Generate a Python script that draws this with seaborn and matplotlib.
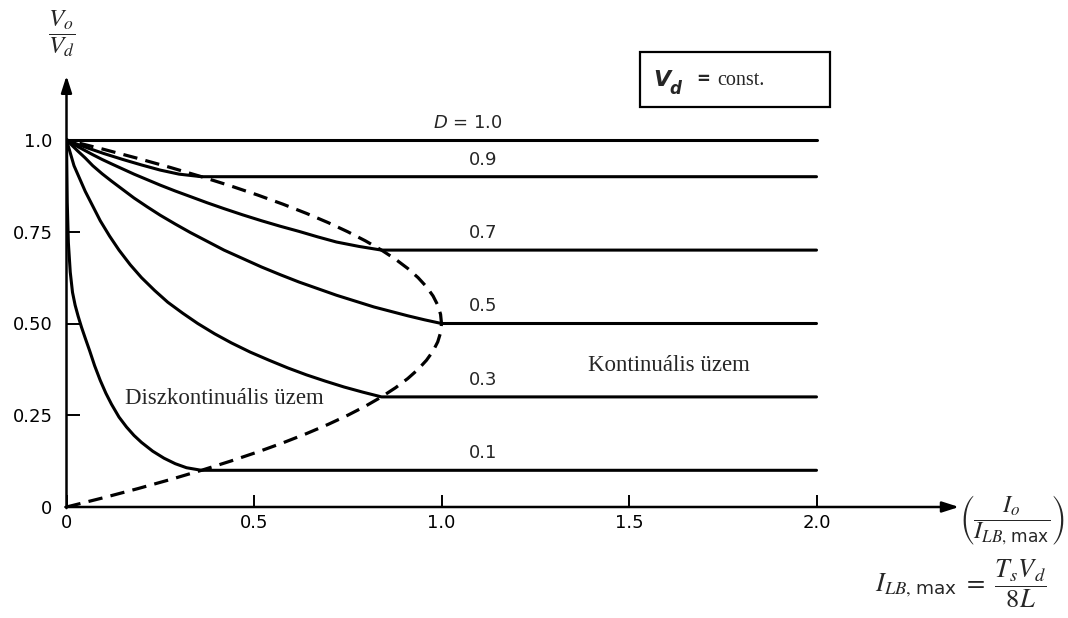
import matplotlib
matplotlib.use("Agg")
import matplotlib.pyplot as plt
import seaborn as sns
import pandas as pd
from matplotlib.patches import Rectangle

# duty cycle values (labels next to the horizontal lines)
duty = [1.0, 0.9, 0.7, 0.5, 0.3, 0.1]
duty_labels = ["$D$ = 1.0", "0.9", "0.7", "0.5", "0.3", "0.1"]

# curves: discontinuous part + flat continuous part up to 2.0
x_d10 = [0.0, 2.0]
y_d10 = [1.0, 1.0]

x_d09 = [0.0, 0.03, 0.06, 0.1, 0.15, 0.2, 0.25, 0.3, 0.36, 2.0]
y_d09 = [1.0, 0.988, 0.977, 0.963, 0.947, 0.932, 0.918, 0.907, 0.9, 0.9]

x_d07 = [0.0, 0.015, 0.03, 0.05, 0.07, 0.095, 0.12, 0.15, 0.18, 0.215, 0.25, 0.29,
         0.33, 0.375, 0.42, 0.47, 0.52, 0.57, 0.62, 0.67, 0.72, 0.78, 0.84, 2.0]
y_d07 = [1.0, 0.991, 0.982, 0.971, 0.960, 0.947, 0.935, 0.921, 0.907, 0.892, 0.877,
         0.861, 0.846, 0.829, 0.813, 0.796, 0.780, 0.765, 0.751, 0.736, 0.722, 0.710,
         0.70, 0.70]

x_d05 = [0.0, 0.015, 0.03, 0.05, 0.07, 0.095, 0.12, 0.15, 0.18, 0.215, 0.25, 0.29,
         0.33, 0.375, 0.42, 0.47, 0.52, 0.57, 0.62, 0.67, 0.72, 0.77, 0.82, 0.865,
         0.91, 0.955, 1.0, 2.0]
y_d05 = [1.0, 0.985, 0.97, 0.951, 0.93, 0.908, 0.888, 0.865, 0.842, 0.818, 0.795,
         0.771, 0.748, 0.724, 0.70, 0.677, 0.654, 0.633, 0.613, 0.595, 0.577, 0.561,
         0.545, 0.533, 0.521, 0.510, 0.50, 0.50]

x_d03 = [0.0, 0.01, 0.02, 0.035, 0.05, 0.07, 0.09, 0.115, 0.14, 0.17, 0.2, 0.235,
         0.27, 0.31, 0.35, 0.395, 0.44, 0.49, 0.54, 0.59, 0.64, 0.69, 0.74, 0.79,
         0.84, 2.0]
y_d03 = [1.0, 0.965, 0.93, 0.895, 0.86, 0.82, 0.78, 0.738, 0.70, 0.66, 0.625, 0.59,
         0.558, 0.528, 0.50, 0.472, 0.447, 0.422, 0.40, 0.379, 0.36, 0.343, 0.327,
         0.313, 0.30, 0.30]

x_d01 = [0.0, 0.002, 0.005, 0.01, 0.016, 0.023, 0.031, 0.04, 0.05, 0.062, 0.075,
         0.09, 0.105, 0.12, 0.14, 0.16, 0.18, 0.2, 0.23, 0.26, 0.29, 0.32, 0.36, 2.0]
y_d01 = [1.0, 0.83, 0.72, 0.64, 0.585, 0.55, 0.52, 0.49, 0.46, 0.425, 0.385, 0.345,
         0.31, 0.28, 0.245, 0.218, 0.195, 0.176, 0.152, 0.133, 0.118, 0.107, 0.10, 0.10]

# dashed boundary between the two modes
x_boundary = [0.0, 0.0975, 0.19, 0.2775, 0.36, 0.4375, 0.51, 0.5775, 0.64, 0.6975,
              0.75, 0.7975, 0.84, 0.8775, 0.91, 0.9375, 0.96, 0.9775, 0.99, 0.9975,
              1.0, 0.9975, 0.99, 0.9775, 0.96, 0.9375, 0.91, 0.8775, 0.84, 0.7975,
              0.75, 0.6975, 0.64, 0.5775, 0.51, 0.4375, 0.36, 0.2775, 0.19, 0.0975, 0.0]
y_boundary = [0.0, 0.025, 0.05, 0.075, 0.1, 0.125, 0.15, 0.175, 0.2, 0.225,
              0.25, 0.275, 0.3, 0.325, 0.35, 0.375, 0.4, 0.425, 0.45, 0.475,
              0.5, 0.525, 0.55, 0.575, 0.6, 0.625, 0.65, 0.675, 0.7, 0.725,
              0.75, 0.775, 0.8, 0.825, 0.85, 0.875, 0.9, 0.925, 0.95, 0.975, 1.0]

x_ticks = [0, 0.5, 1.0, 1.5, 2.0]
x_ticklabels = ["0", "0.5", "1.0", "1.5", "2.0"]
y_ticks = [0, 0.25, 0.5, 0.75, 1.0]
y_ticklabels = ["0", "0.25", "0.50", "0.75", "1.0"]

curves_x = [x_d10, x_d09, x_d07, x_d05, x_d03, x_d01]
curves_y = [y_d10, y_d09, y_d07, y_d05, y_d03, y_d01]
rows = []
for d, xs, ys in zip(duty, curves_x, curves_y):
    for xv, yv in zip(xs, ys):
        rows.append({"D": d, "x": xv, "y": yv})
df = pd.DataFrame(rows)
df_b = pd.DataFrame({"x": x_boundary, "y": y_boundary})

sns.set_style("white")
plt.rcParams["font.family"] = ["DejaVu Sans"]
plt.rcParams["mathtext.fontset"] = "stix"

fig = plt.figure(figsize=(10.68, 6.18), dpi=100)
W, H = 1068, 618
x0_px, y0_px = 66.5, 507
sx, sy = 375, 367
ax = fig.add_axes([x0_px / W, (H - y0_px) / H, 2.4 * sx / W, 1.2 * sy / H])
ax.set_xlim(0, 2.4)
ax.set_ylim(0, 1.2)

sns.lineplot(data=df, x="x", y="y", units="D", estimator=None, sort=False,
             color="black", linewidth=2.2, ax=ax, legend=False)
sns.lineplot(data=df_b, x="x", y="y", sort=False, estimator=None,
             color="black", linewidth=2.3, linestyle=(0, (4.5, 2.6)), ax=ax)

for s in ax.spines.values():
    s.set_visible(False)

# axes with arrow heads
arrow = dict(arrowstyle="-|>,head_length=1.0,head_width=0.32", color="black",
             lw=1.8, shrinkA=0, shrinkB=0)
ax.annotate("", xy=(2.38, 0), xytext=(-0.003, 0), arrowprops=arrow, annotation_clip=False)
ax.annotate("", xy=(0, 1.175), xytext=(0, -0.003), arrowprops=arrow, annotation_clip=False)

ax.set_xticks(x_ticks, x_ticklabels)
ax.set_yticks(y_ticks, y_ticklabels)
ax.tick_params(axis="both", direction="in", length=9, width=1.4, colors="black",
               labelsize=13)
ax.tick_params(axis="x", pad=5, bottom=True)
ax.tick_params(axis="y", pad=10, left=True)
ax.set_xlabel("")
ax.set_ylabel("")

# duty cycle labels
for d, lab in zip(duty, duty_labels):
    xpos = 1.07 if d == 1.0 else 1.11
    ax.text(xpos, d + 0.022, lab, ha="center", va="bottom", fontsize=13,
            math_fontfamily="dejavusans")

ax.text(1.39, 0.385, "Kontinuális üzem", family="Liberation Serif", fontsize=16.5,
        ha="left", va="center")
ax.text(0.155, 0.297, "Diszkontinuális üzem", family="Liberation Serif", fontsize=16.5,
        ha="left", va="center")

# axis titles
ax.text(-0.012, 1.29, r"$\dfrac{V_o}{V_d}$", fontsize=18, ha="center", va="center",
        clip_on=False)
ax.text(2.52, -0.035, r"$\left(\dfrac{I_o}{I_{LB,\,\mathregular{max}}}\right)$",
        fontsize=17.5, ha="center", va="center", clip_on=False)
ax.text(2.385, -0.21, r"$I_{LB,\,\mathregular{max}}\ =\ \dfrac{T_sV_d}{8L}$",
        fontsize=19, ha="center", va="center", clip_on=False)

# V_d = const. box
ax.add_patch(Rectangle((1.53, 1.09), 0.505, 0.15, fill=False, edgecolor="black",
                       lw=1.6, clip_on=False))
ax.text(1.565, 1.163, "V", family="DejaVu Sans", fontweight="bold", style="italic",
        fontsize=16, ha="left", va="center")
ax.text(1.607, 1.14, "d", family="DejaVu Sans", fontweight="bold", style="italic",
        fontsize=12, ha="left", va="center")
ax.text(1.68, 1.165, "=", family="DejaVu Sans", fontweight="bold", fontsize=12,
        ha="left", va="center")
ax.text(1.735, 1.163, "const.", family="Liberation Serif", fontsize=14.5,
        ha="left", va="center")

fig.savefig("out.png", dpi=100)
